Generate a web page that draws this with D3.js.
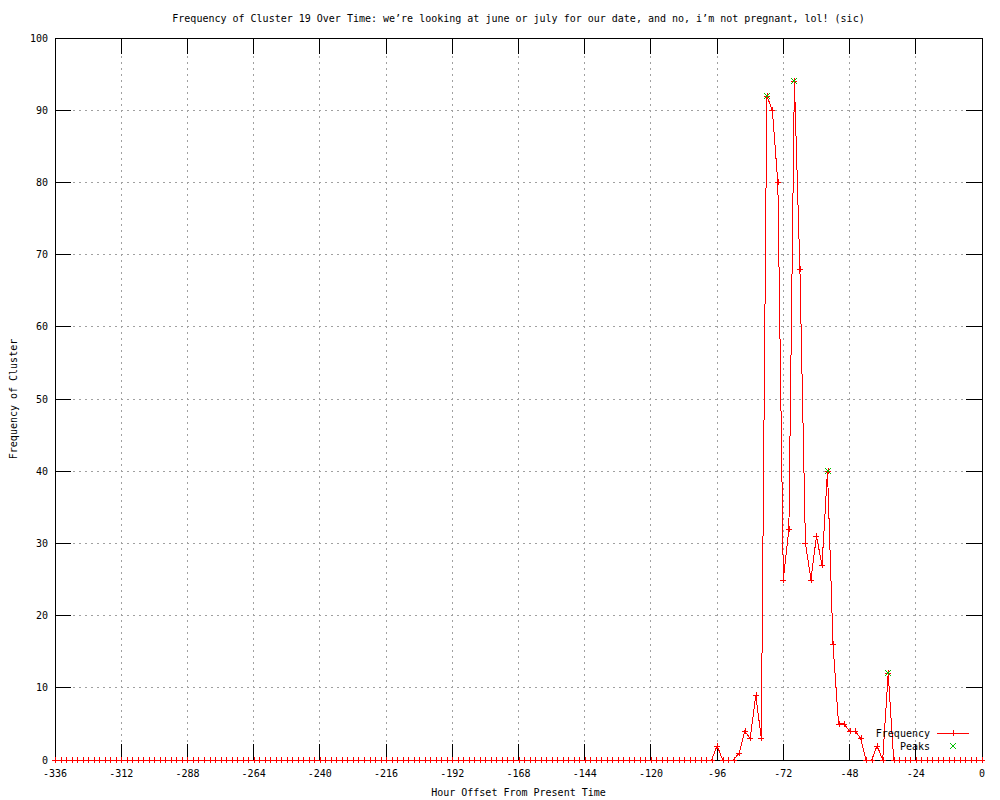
<!DOCTYPE html>
<html>
<head>
<meta charset="utf-8">
<script src="https://cdn.jsdelivr.net/npm/d3@7"></script>
<style>
  body { margin: 0; background: #fff; }
  text { font-family: "DejaVu Sans Mono", monospace; font-size: 10px; fill: #000; }
</style>
</head>
<body>
<div id="chart"></div>
<script>
// sample hours, one every 2 hours from -336 to 0
var hours = d3.range(-336, 2, 2);
// frequency per sample, one row per day (12 samples), last value is hour 0
var frequency = [
  0, 0, 0, 0, 0, 0, 0, 0, 0, 0, 0, 0,
  0, 0, 0, 0, 0, 0, 0, 0, 0, 0, 0, 0,
  0, 0, 0, 0, 0, 0, 0, 0, 0, 0, 0, 0,
  0, 0, 0, 0, 0, 0, 0, 0, 0, 0, 0, 0,
  0, 0, 0, 0, 0, 0, 0, 0, 0, 0, 0, 0,
  0, 0, 0, 0, 0, 0, 0, 0, 0, 0, 0, 0,
  0, 0, 0, 0, 0, 0, 0, 0, 0, 0, 0, 0,
  0, 0, 0, 0, 0, 0, 0, 0, 0, 0, 0, 0,
  0, 0, 0, 0, 0, 0, 0, 0, 0, 0, 0, 0,
  0, 0, 0, 0, 0, 0, 0, 0, 0, 0, 0, 0,
  2, 0, 0, 0, 1, 4, 3, 9, 3, 92, 90, 80,
  25, 32, 94, 68, 30, 25, 31, 27, 40, 16, 5, 5,
  4, 4, 3, 0, 0, 2, 0, 12, 0, 0, 0, 0,
  0, 0, 0, 0, 0, 0, 0, 0, 0, 0, 0, 0,
  0
];
var peakHours = [-78, -68, -56, -34];
var peakValues = [92, 94, 40, 12];

var xTicks = [-336, -312, -288, -264, -240, -216, -192, -168, -144, -120, -96, -72, -48, -24, 0];
var yTicks = [0, 10, 20, 30, 40, 50, 60, 70, 80, 90, 100];

var title = "Frequency of Cluster 19 Over Time: we\u2019re looking at june or july for our date, and no, i\u2019m not pregnant, lol! (sic)";

var width = 1000, height = 800;
var plot = {left: 55, right: 982, top: 38, bottom: 760};
var ticLen = 16;

var svg = d3.select("#chart").append("svg")
  .attr("width", width)
  .attr("height", height)
  .attr("shape-rendering", "crispEdges");

var x = d3.scaleLinear().domain([-336, 0]).range([plot.left, plot.right]);
var y = d3.scaleLinear().domain([0, 100]).range([plot.bottom, plot.top]);

// dotted grid
var grid = svg.append("g")
  .attr("stroke", "#a0a0a0")
  .attr("stroke-width", 1)
  .attr("stroke-dasharray", "2,4");
grid.selectAll(".gx").data(xTicks.slice(1, -1)).enter().append("line")
  .attr("x1", d => x(d)).attr("x2", d => x(d))
  .attr("y1", plot.bottom).attr("y2", plot.top);
grid.selectAll(".gy").data(yTicks.slice(1, -1)).enter().append("line")
  .attr("x1", plot.left).attr("x2", plot.right)
  .attr("y1", d => y(d)).attr("y2", d => y(d));

// data line (under the border)
var points = hours.map((h, i) => ({h: h, v: frequency[i]}));
var line = d3.line().x(d => x(d.h)).y(d => y(d.v));
svg.append("path").datum(points)
  .attr("d", line)
  .attr("fill", "none").attr("stroke", "#ff0000").attr("stroke-width", 1);

// border
svg.append("rect")
  .attr("x", plot.left).attr("y", plot.top)
  .attr("width", plot.right - plot.left).attr("height", plot.bottom - plot.top)
  .attr("fill", "none").attr("stroke", "#000");

// ticks (mirrored on all sides)
var tics = svg.append("g").attr("stroke", "#000");
xTicks.forEach(function(d) {
  tics.append("line").attr("x1", x(d)).attr("x2", x(d)).attr("y1", plot.bottom).attr("y2", plot.bottom - ticLen);
  tics.append("line").attr("x1", x(d)).attr("x2", x(d)).attr("y1", plot.top).attr("y2", plot.top + ticLen);
});
yTicks.forEach(function(d) {
  tics.append("line").attr("x1", plot.left).attr("x2", plot.left + ticLen).attr("y1", y(d)).attr("y2", y(d));
  tics.append("line").attr("x1", plot.right).attr("x2", plot.right - ticLen).attr("y1", y(d)).attr("y2", y(d));
});

// tick labels
svg.append("g").selectAll("text").data(xTicks).enter().append("text")
  .attr("x", d => x(d)).attr("y", plot.bottom + 17)
  .attr("text-anchor", "middle")
  .text(d => d);
svg.append("g").selectAll("text").data(yTicks).enter().append("text")
  .attr("x", plot.left - 7).attr("y", d => y(d)).attr("dy", "0.35em")
  .attr("text-anchor", "end")
  .text(d => d);

// titles
svg.append("text").attr("x", (plot.left + plot.right) / 2).attr("y", 22)
  .attr("text-anchor", "middle").text(title);
svg.append("text").attr("x", (plot.left + plot.right) / 2).attr("y", 796)
  .attr("text-anchor", "middle").text("Hour Offset From Present Time");
svg.append("text")
  .attr("transform", "translate(17," + ((plot.top + plot.bottom) / 2) + ") rotate(-90)")
  .attr("text-anchor", "middle").text("Frequency of Cluster");

// point markers
var plus = "M-3,0H3M0,-3V3";
var cross = "M-3,-3L3,3M-3,3L3,-3";
svg.append("g").selectAll("path").data(points).enter().append("path")
  .attr("transform", d => "translate(" + Math.round(x(d.h)) + "," + Math.round(y(d.v)) + ")")
  .attr("d", plus).attr("stroke", "#ff0000").attr("fill", "none");

svg.append("g").selectAll("path").data(peakHours).enter().append("path")
  .attr("transform", (d, i) => "translate(" + Math.round(x(d)) + "," + Math.round(y(peakValues[i])) + ")")
  .attr("d", cross).attr("stroke", "#00c000").attr("fill", "none");

// key
var key = svg.append("g");
key.append("text").attr("x", 930).attr("y", 733).attr("dy", "0.35em").attr("text-anchor", "end").text("Frequency");
key.append("line").attr("x1", 937).attr("x2", 969).attr("y1", 733).attr("y2", 733).attr("stroke", "#ff0000");
key.append("path").attr("transform", "translate(953,733)").attr("d", plus).attr("stroke", "#ff0000");
key.append("text").attr("x", 930).attr("y", 746).attr("dy", "0.35em").attr("text-anchor", "end").text("Peaks");
key.append("path").attr("transform", "translate(953,746)").attr("d", cross).attr("stroke", "#00c000");
</script>
</body>
</html>
